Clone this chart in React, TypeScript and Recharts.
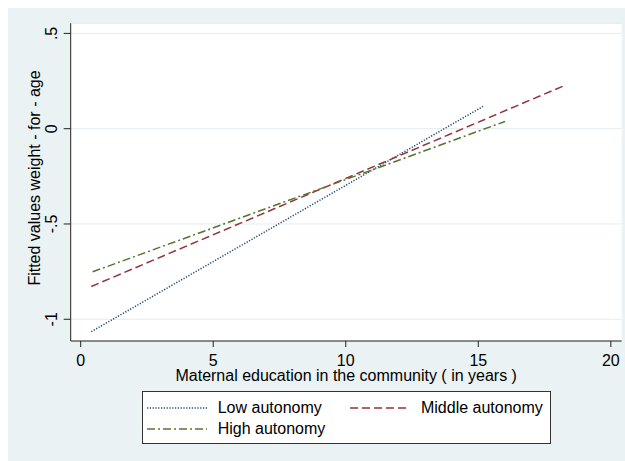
import React from "react";
import { LineChart, Line, XAxis, YAxis, CartesianGrid } from "recharts";

// fitted values, two end points of each linear fit
const lowX = [0.4, 15.18];
const lowY = [-1.065, 0.117];
const middleX = [0.4, 18.21];
const middleY = [-0.828, 0.224];
const highX = [0.45, 16.01];
const highY = [-0.751, 0.038];

const xTicks = [0, 5, 10, 15, 20];
const yTicks = [0.5, 0, -0.5, -1];
const yTickLabels = [".5", "0", "-.5", "-1"];

const seriesNames = ["Low autonomy", "Middle autonomy", "High autonomy"];

const toPoints = (xs: number[], ys: number[]) =>
  xs.map((x, i) => ({ x, y: ys[i] }));

const lowData = toPoints(lowX, lowY);
const middleData = toPoints(middleX, middleY);
const highData = toPoints(highX, highY);

const FONT = "'Liberation Sans', Arial, Helvetica, sans-serif";
const FS = 16;
const BG = "#eaf2f3";
const AXIS = "#222";
const BLUE = "#1a476f";
const RED = "#90353b";
const GREEN = "#55752f";

const YTick = (props: any) => {
  const { x, y, payload } = props;
  const i = yTicks.indexOf(payload.value);
  const bx = x - 5;
  return (
    <text
      x={bx}
      y={y}
      transform={`rotate(-90, ${bx}, ${y})`}
      textAnchor="middle"
      fontSize={FS}
      fontFamily={FONT}
      fill="#000"
    >
      {i >= 0 ? yTickLabels[i] : payload.value}
    </text>
  );
};

const YTitle = () => {
  const cx = 32;
  const cy = 170;
  return (
    <text
      x={cx}
      y={cy}
      transform={`rotate(-90, ${cx}, ${cy})`}
      textAnchor="middle"
      fontSize={FS}
      fontFamily={FONT}
      fill="#000"
    >
      Fitted values weight - for - age
    </text>
  );
};

const XTitle = (props: any) => {
  const { viewBox } = props;
  return (
    <text
      x={viewBox.x + viewBox.width / 2}
      y={viewBox.y + 40}
      textAnchor="middle"
      fontSize={FS}
      fontFamily={FONT}
      fill="#000"
    >
      Maternal education in the community ( in years )
    </text>
  );
};

const Sample = ({ color, dash }: { color: string; dash: string }) => (
  <svg width={60} height={6} style={{ display: "block" }}>
    <line x1={0} y1={3} x2={60} y2={3} stroke={color} strokeWidth={1.5} strokeDasharray={dash} />
  </svg>
);

const legendItem = (left: number, top: number, name: string, color: string, dash: string) => (
  <div style={{ position: "absolute", left, top, display: "flex", alignItems: "center", height: 18 }}>
    <Sample color={color} dash={dash} />
    <span style={{ marginLeft: 11, fontSize: FS, fontFamily: FONT, lineHeight: "18px", whiteSpace: "nowrap" }}>
      {name}
    </span>
  </div>
);

export default function App() {
  return (
    <div style={{ width: 625, height: 461, paddingLeft: 8, paddingTop: 8, boxSizing: "border-box", background: "#fff" }}>
      <style>{"html,body{margin:0;padding:0;overflow:hidden}#root{overflow:visible}"}</style>
      <div style={{ position: "relative", width: 617, height: 453, background: BG }}>
        <LineChart
          width={617}
          height={453}
          margin={{ top: 15.3, right: 3.3, bottom: 60, left: 0 }}
        >
          <CartesianGrid vertical={false} stroke="#e4eced" fill="#ffffff" />
          <XAxis
            type="number"
            dataKey="x"
            domain={[-0.377, 20.41]}
            ticks={xTicks}
            allowDataOverflow
            height={60}
            tickSize={6}
            tickMargin={8}
            stroke={AXIS}
            tick={{ fontSize: FS, fontFamily: FONT, fill: "#000" }}
            label={<XTitle />}
          />
          <YAxis
            type="number"
            dataKey="y"
            domain={[-1.114, 0.553]}
            ticks={yTicks}
            allowDataOverflow
            width={62.7}
            tickSize={7}
            tickMargin={2}
            stroke={AXIS}
            tick={<YTick />}
            label={<YTitle />}
          />
          <Line
            data={lowData}
            dataKey="y"
            name={seriesNames[0]}
            stroke={BLUE}
            strokeWidth={1.5}
            strokeDasharray="1.2 1.6"
            dot={false}
            isAnimationActive={false}
          />
          <Line
            data={middleData}
            dataKey="y"
            name={seriesNames[1]}
            stroke={RED}
            strokeWidth={1.5}
            strokeDasharray="8 4"
            dot={false}
            isAnimationActive={false}
          />
          <Line
            data={highData}
            dataKey="y"
            name={seriesNames[2]}
            stroke={GREEN}
            strokeWidth={1.5}
            strokeDasharray="8 3 2 3"
            dot={false}
            isAnimationActive={false}
          />
        </LineChart>
        <div
          style={{
            position: "absolute",
            left: 133.7,
            top: 383,
            width: 407,
            height: 51,
            background: "#fff",
            border: "1px solid #333",
          }}
        >
          {legendItem(4, 7, seriesNames[0], BLUE, "1.2 1.6")}
          {legendItem(207.3, 7, seriesNames[1], RED, "8 4")}
          {legendItem(4, 28, seriesNames[2], GREEN, "8 3 2 3")}
        </div>
      </div>
    </div>
  );
}
